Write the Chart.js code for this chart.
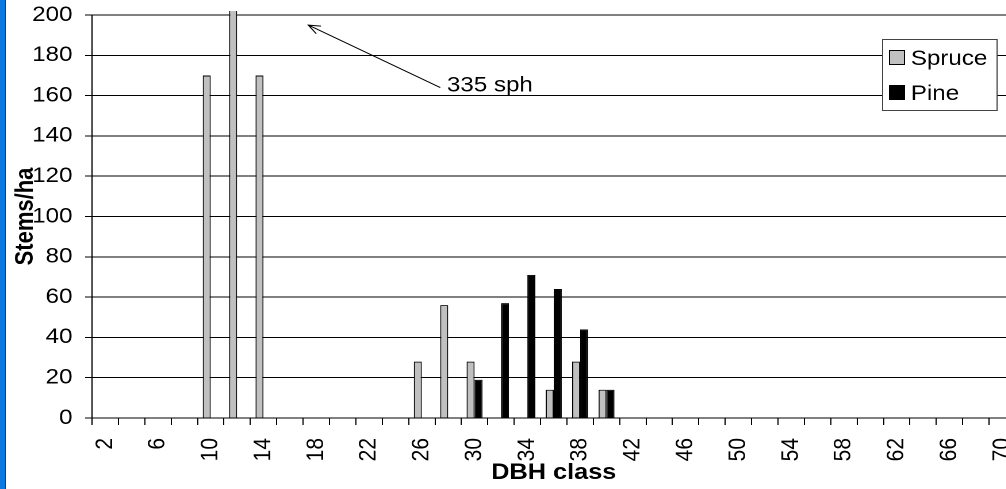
<!DOCTYPE html>
<html>
<head>
<meta charset="utf-8">
<script src="https://cdn.jsdelivr.net/npm/chart.js@4.4.1/dist/chart.umd.min.js"></script>
<style>
  html, body { margin: 0; padding: 0; background: #fff; overflow: hidden; }
  #frame { position: relative; width: 1006px; height: 489px; overflow: hidden; background: #fff; }
  /* the original sheet is a little wider than tall in its lettering, so stretch the whole drawing */
  #stretch { position: absolute; left: 0; top: 0; width: 900px; height: 489px; transform: scaleX(1.15); transform-origin: 0 0; }
  #edge { position: absolute; left: 0; top: 0; width: 5px; height: 489px; background: #0b79e0; border-right: 1px solid #0a3c78; }
</style>
</head>
<body>
<div id="frame">
  <div id="stretch"><canvas id="dbhChart"></canvas></div>
  <div id="edge"></div>
</div>
<script>
// DBH classes (cm) and stems per hectare
const dbhClasses = ['2','4','6','8','10','12','14','16','18','20','22','24','26','28','30','32','34','36',
                    '38','40','42','44','46','48','50','52','54','56','58','60','62','64','66','68','70'];
const spruce = [0,0,0,0,170,335,170,0,0,0,0,0,28,56,28,0,0,14,28,14,
                0,0,0,0,0,0,0,0,0,0,0,0,0,0,0];
const pine   = [0,0,0,0,0,0,0,0,0,0,0,0,0,0,19,57,71,64,44,14,
                0,0,0,0,0,0,0,0,0,0,0,0,0,0,0];
const shownLabels = ['2','6','10','14','18','22','26','30','34','38','42','46','50','54','58','62','66','70'];
const yMin = 0, yMax = 200, yStep = 20;

// note pointing at the clipped spruce bar (category index, stems/ha)
const noteText = '335 sph';
const noteAt = [12.95, 162];
const arrowFrom = [12.7, 164];
const arrowTo = [7.7, 195];

const FONT = '"Liberation Sans", Arial, sans-serif';

const overlay = {
    id: 'overlay',
    afterDraw(chart) {
        const ctx = chart.ctx;
        const area = chart.chartArea;
        const x = chart.scales.x;
        const y = chart.scales.y;
        ctx.save();
        ctx.fillStyle = '#000';

        // axis titles
        ctx.font = 'bold 22px ' + FONT;
        ctx.textAlign = 'center';
        ctx.textBaseline = 'middle';
        ctx.fillText('DBH class', (area.left + area.right) / 2, 473);
        ctx.save();
        ctx.translate(22.6, (area.top + area.bottom) / 2);
        ctx.rotate(-Math.PI / 2);
        ctx.fillText('Stems/ha', 0, 0);
        ctx.restore();

        // arrow + note
        const x0 = x.getPixelForValue(arrowFrom[0]), y0 = y.getPixelForValue(arrowFrom[1]);
        const x1 = x.getPixelForValue(arrowTo[0]), y1 = y.getPixelForValue(arrowTo[1]);
        ctx.strokeStyle = '#000';
        ctx.lineWidth = 1;
        ctx.beginPath();
        ctx.moveTo(x0, y0);
        ctx.lineTo(x1, y1);
        const ang = Math.atan2(y0 - y1, x0 - x1);
        const len = 11;
        ctx.moveTo(x1 + len * Math.cos(ang - 0.4), y1 + len * Math.sin(ang - 0.4));
        ctx.lineTo(x1, y1);
        ctx.lineTo(x1 + len * Math.cos(ang + 0.4), y1 + len * Math.sin(ang + 0.4));
        ctx.stroke();
        ctx.font = '21px ' + FONT;
        ctx.textAlign = 'left';
        ctx.textBaseline = 'alphabetic';
        ctx.fillText(noteText, x.getPixelForValue(noteAt[0]), y.getPixelForValue(noteAt[1]));

        // legend box
        const bx = 767.5, by = 39.5, bw = 99.5, bh = 71;
        ctx.fillStyle = '#fff';
        ctx.fillRect(bx, by, bw, bh);
        ctx.strokeStyle = '#444';
        ctx.strokeRect(bx, by, bw, bh);
        const baselines = [65, 100];
        chart.data.datasets.forEach((ds, i) => {
            ctx.fillStyle = ds.backgroundColor;
            ctx.fillRect(773, baselines[i] - 15, 14, 15);
            ctx.strokeStyle = '#000';
            ctx.strokeRect(773.5, baselines[i] - 14.5, 13, 14);
            ctx.fillStyle = '#000';
            ctx.font = '21px ' + FONT;
            ctx.fillText(ds.label, 792, baselines[i]);
        });
        ctx.restore();
    }
};

new Chart(document.getElementById('dbhChart'), {
    type: 'bar',
    data: {
        labels: dbhClasses,
        datasets: [{
            label: 'Spruce',
            data: spruce,
            backgroundColor: '#c0c0c0',
            borderColor: '#000',
            borderWidth: 1,
            clip: {left: 0, top: 4, right: 0, bottom: 0}
        }, {
            label: 'Pine',
            data: pine,
            backgroundColor: '#000',
            borderColor: '#000',
            borderWidth: 1
        }]
    },
    options: {
        responsive: true,
        maintainAspectRatio: false,
        animation: false,
        devicePixelRatio: 2,
        layout: { padding: { top: 15, right: 17, left: 0, bottom: 0 } },
        datasets: { bar: { categoryPercentage: 0.606, barPercentage: 1.0 } },
        plugins: {
            legend: { display: false },
            tooltip: { enabled: false }
        },
        scales: {
            x: {
                afterFit: scale => {
                    scale.height = 71;
                    scale.paddingLeft = 0;
                    scale.paddingRight = 0;
                },
                grid: { drawOnChartArea: false, drawTicks: true, tickLength: 7, color: '#000', offset: true },
                border: { color: '#000', width: 1 },
                ticks: {
                    autoSkip: false,
                    maxRotation: 90,
                    minRotation: 90,
                    padding: 13,
                    color: '#000',
                    font: { family: FONT, size: 21 },
                    callback: function(val) {
                        const lab = this.getLabelForValue(val);
                        return shownLabels.includes(lab) ? lab : '';
                    }
                }
            },
            y: {
                min: yMin,
                max: yMax,
                afterFit: scale => {
                    scale.width = 80;
                    scale.paddingTop = 0;
                    scale.paddingBottom = 0;
                },
                grid: { color: '#000', lineWidth: 1, tickLength: 6 },
                border: { color: '#000', width: 1 },
                ticks: {
                    stepSize: yStep,
                    padding: 11,
                    color: '#000',
                    font: { family: FONT, size: 21 }
                }
            }
        }
    },
    plugins: [overlay]
});
</script>
</body>
</html>
